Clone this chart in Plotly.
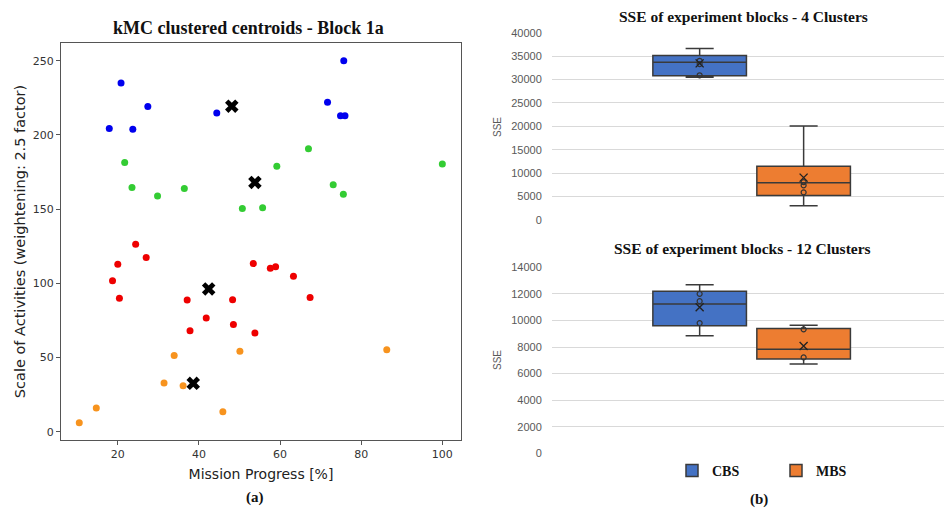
import plotly.graph_objects as go

# ---------------- data: scatter (a) ----------------
blue_x = [17.9, 20.8, 23.7, 27.4, 44.4, 71.7, 74.9, 76.0, 75.7]
blue_y = [204.4, 235.0, 203.9, 219.2, 214.9, 222.1, 212.9, 212.9, 250.0]
green_x = [21.7, 23.5, 29.8, 36.4, 50.7, 55.7, 59.2, 67.0, 73.1, 75.6, 100.0]
green_y = [181.4, 164.6, 158.8, 163.9, 150.4, 150.9, 179.0, 190.7, 166.4, 160.1, 180.5]
red_x = [24.4, 27.0, 20.0, 18.7, 20.4, 37.1, 37.8, 41.8, 48.3, 48.5, 53.8, 53.4, 57.6, 58.9, 63.3, 67.4]
red_y = [126.3, 117.4, 112.9, 101.8, 90.0, 88.8, 68.1, 76.7, 89.0, 72.2, 66.6, 113.3, 110.2, 111.1, 104.8, 90.4]
orange_x = [33.9, 50.1, 86.3, 31.4, 36.1, 14.7, 10.5, 45.9]
orange_y = [51.3, 54.2, 55.3, 32.8, 31.0, 16.0, 6.1, 13.5]
centroid_x = [48.1, 53.8, 42.4, 38.6]
centroid_y = [219.4, 168.0, 96.2, 32.6]
x_ticks = [20, 40, 60, 80, 100]
y_ticks = [0, 50, 100, 150, 200, 250]

# ---------------- data: box plots (b) ----------------
groups = ["CBS", "MBS"]
# 4 clusters
c4_lower = [30500, 3050]
c4_q1 = [30800, 5250]
c4_median = [33700, 7950]
c4_q3 = [35150, 11500]
c4_upper = [36600, 20100]
c4_mean = [33450, 9050]
c4_points = [[34000, 33300, 30900], [8100, 7400, 5900]]
# 12 clusters
c12_lower = [8850, 6720]
c12_q1 = [9600, 7100]
c12_median = [11230, 7830]
c12_q3 = [12200, 9400]
c12_upper = [12680, 9640]
c12_mean = [11000, 8080]
c12_points = [[12000, 11450, 9800], [9330, 7220]]

fills = {"CBS": "#4472C4", "MBS": "#ED7D31"}

fig = go.Figure()

# scatter panel
for xs, ys, col in [(blue_x, blue_y, "#0000ee"), (green_x, green_y, "#33cc33"),
                    (red_x, red_y, "#ee0000"), (orange_x, orange_y, "#f7931e")]:
    fig.add_trace(go.Scatter(x=xs, y=ys, mode="markers", xaxis="x", yaxis="y",
                             marker=dict(color=col, size=7), showlegend=False))
fig.add_trace(go.Scatter(x=centroid_x, y=centroid_y, mode="markers", xaxis="x", yaxis="y",
                         marker=dict(color="black", size=12, symbol="x"), showlegend=False))

# box panels
def add_boxes(ax, lower, q1, med, q3, upper, mean, pts, legend):
    for i, g in enumerate(groups):
        fig.add_trace(go.Box(
            x=[g], q1=[q1[i]], median=[med[i]], q3=[q3[i]],
            lowerfence=[lower[i]], upperfence=[upper[i]],
            name="<b>" + g + "</b>", fillcolor=fills[g], line=dict(color="#3a3a3a", width=1.5),
            width=0.9, whiskerwidth=0.3, boxpoints=False,
            xaxis="x" + ax, yaxis="y" + ax, showlegend=legend,
            legendgroup=g))
        fig.add_trace(go.Scatter(
            x=[g] * len(pts[i]), y=pts[i], mode="markers", xaxis="x" + ax, yaxis="y" + ax,
            marker=dict(symbol="circle-open", size=5, color="#333333", line=dict(width=1.2)),
            showlegend=False, hoverinfo="skip"))
        fig.add_trace(go.Scatter(
            x=[g], y=[mean[i]], mode="markers", xaxis="x" + ax, yaxis="y" + ax,
            marker=dict(symbol="x-thin-open", size=8, color="#222222", line=dict(width=1.4, color="#222222")),
            showlegend=False, hoverinfo="skip"))

add_boxes("2", c4_lower, c4_q1, c4_median, c4_q3, c4_upper, c4_mean, c4_points, False)
add_boxes("3", c12_lower, c12_q1, c12_median, c12_q3, c12_upper, c12_mean, c12_points, True)

W, H = 944, 510
def px(x):
    return x / W
def py(y):
    return 1 - y / H

tickfont_mpl = dict(family="DejaVu Sans", size=11, color="#333333")
tickfont_xl = dict(family="Liberation Sans", size=11, color="#595959")

box_x_common = dict(type="category", categoryorder="array", categoryarray=groups,
                    range=[-1.42, 2.35], showticklabels=False, showgrid=False,
                    zeroline=False, showline=False, ticks="", automargin=False)

fig.update_layout(
    width=W, height=H, margin=dict(l=0, r=0, t=0, b=0, autoexpand=False),
    paper_bgcolor="white", plot_bgcolor="white",
    xaxis=dict(domain=[px(61), px(461)], anchor="y", range=[6, 104.6], tickvals=x_ticks,
               showline=True, mirror=True, linecolor="#555555", linewidth=1.2,
               ticks="outside", ticklen=4, tickcolor="#555555", showgrid=False, zeroline=False,
               tickfont=tickfont_mpl, automargin=False,
               title=dict(text="Mission Progress [%]", font=dict(family="DejaVu Sans", size=14, color="#222222"), standoff=8)),
    yaxis=dict(domain=[py(440), py(43)], anchor="x", range=[-5.6, 262], tickvals=y_ticks,
               showline=True, mirror=True, linecolor="#555555", linewidth=1.2,
               ticks="outside", ticklen=4, tickcolor="#555555", showgrid=False, zeroline=False,
               tickfont=tickfont_mpl, automargin=False,
               title=dict(text="Scale of Activities (weightening: 2.5 factor)", font=dict(family="DejaVu Sans", size=14.5, color="#222222"), standoff=3)),
    xaxis2=dict(domain=[px(552), 1.0], anchor="y2", **box_x_common),
    yaxis2=dict(domain=[py(220), py(32.7)], anchor="x2", range=[0, 40000], dtick=5000,
                showgrid=True, gridcolor="#d9d9d9", gridwidth=1, zeroline=False, showline=False,
                tickfont=tickfont_xl, ticks="outside", ticklen=7, tickcolor="rgba(0,0,0,0)",
                tickformat="d", automargin=False),
    xaxis3=dict(domain=[px(552), 1.0], anchor="y3", **box_x_common),
    yaxis3=dict(domain=[py(453.3), py(267.3)], anchor="x3", range=[0, 14000], dtick=2000,
                showgrid=True, gridcolor="#d9d9d9", gridwidth=1, zeroline=False, showline=False,
                tickfont=tickfont_xl, ticks="outside", ticklen=7, tickcolor="rgba(0,0,0,0)",
                tickformat="d", automargin=False),
    legend=dict(orientation="h", x=px(672), xanchor="left", y=py(471), yanchor="middle",
                font=dict(family="Liberation Serif", size=14, color="#111111"),
                entrywidth=59, entrywidthmode="pixels", bgcolor="rgba(0,0,0,0)"),
    annotations=[
        dict(text="<b>kMC clustered centroids - Block 1a</b>", x=px(248), y=py(28), xref="paper", yref="paper",
             xanchor="center", yanchor="middle",
             showarrow=False, font=dict(family="Liberation Serif", size=18, color="#111111")),
        dict(text="<b>SSE of experiment blocks - 4 Clusters</b>", x=px(743), y=py(16), xref="paper", yref="paper",
             xanchor="center", yanchor="middle",
             showarrow=False, font=dict(family="Liberation Serif", size=15.5, color="#111111")),
        dict(text="<b>SSE of experiment blocks - 12 Clusters</b>", x=px(742), y=py(248), xref="paper", yref="paper",
             xanchor="center", yanchor="middle",
             showarrow=False, font=dict(family="Liberation Serif", size=15.5, color="#111111")),
        dict(text="SSE", x=px(497), y=py(127), xref="paper", yref="paper", textangle=-90,
             xanchor="center", yanchor="middle",
             showarrow=False, font=dict(family="Liberation Sans", size=10, color="#595959")),
        dict(text="SSE", x=px(497), y=py(360), xref="paper", yref="paper", textangle=-90,
             xanchor="center", yanchor="middle",
             showarrow=False, font=dict(family="Liberation Sans", size=10, color="#595959")),
        dict(text="<b>(a)</b>", x=px(255), y=py(497), xref="paper", yref="paper",
             xanchor="center", yanchor="middle",
             showarrow=False, font=dict(family="Liberation Serif", size=15, color="#111111")),
        dict(text="<b>(b)</b>", x=px(759), y=py(499), xref="paper", yref="paper",
             xanchor="center", yanchor="middle",
             showarrow=False, font=dict(family="Liberation Serif", size=15, color="#111111")),
    ],
)

fig.write_html("out.html", config={"displayModeBar": False},
               post_script="document.body.style.margin='0px';document.body.style.overflow='hidden';")
